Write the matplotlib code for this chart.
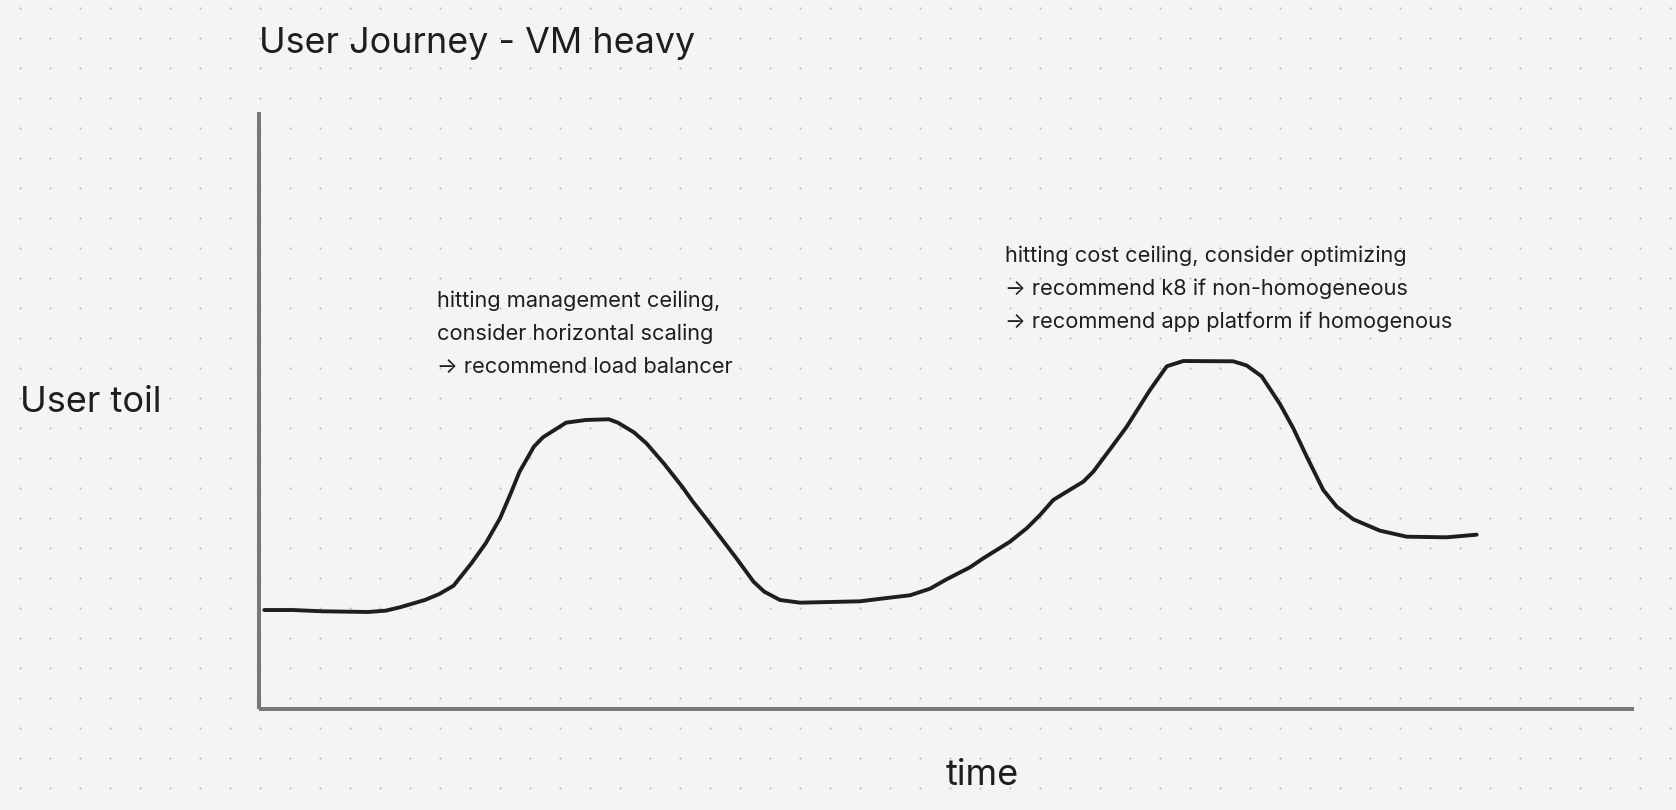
# User Journey - VM heavy (hand-drawn style sketch)
import numpy as np
import matplotlib.pyplot as plt

plt.rcParams['font.family'] = ['Inter', 'DejaVu Sans']

# curve: time (0-100) vs user toil (0-100)
time = [0.42, 2.50, 4.57, 7.95, 9.25, 10.29, 12.10, 13.14, 14.18, 15.48, 16.52,
        17.56, 18.34, 18.98, 20.02, 20.68, 22.36, 23.79, 25.47, 26.13, 27.29,
        28.20, 29.50, 30.80, 31.58, 32.62, 34.69, 35.99, 36.77, 37.91,
        39.37, 43.73, 45.67, 47.37, 48.82, 50.03, 51.73, 52.69, 54.63, 55.85,
        56.82, 57.78, 58.76, 59.96, 60.69, 62.14, 63.12, 64.81, 66.03, 67.23,
        70.87, 71.84, 72.93, 74.26, 75.23, 76.21, 77.41, 78.39, 79.59, 81.53,
        83.48, 86.38, 88.56]
toil = [16.58, 16.58, 16.37, 16.25, 16.47, 17.04, 18.26, 19.26, 20.65, 24.41, 27.76,
        31.94, 36.13, 39.75, 43.94, 45.51, 47.96, 48.41, 48.53, 47.96, 46.35,
        44.51, 41.04, 37.24, 34.72, 31.66, 25.41, 21.32, 19.65, 18.26,
        17.81, 18.04, 18.59, 19.05, 20.15, 21.73, 23.74, 25.24, 28.02, 30.27,
        32.50, 35.01, 36.40, 38.07, 39.75, 44.22, 47.29, 53.43, 57.40, 58.29,
        58.24, 57.54, 55.73, 51.09, 47.02, 42.26, 36.68, 33.89, 31.78, 29.87,
        28.86, 28.76, 29.20]

title = 'User Journey - VM heavy'
xlabel = 'time'
ylabel = 'User toil'
note1 = ['hitting management ceiling,',
         'consider horizontal scaling',
         '\u2192 recommend load balancer']
note2 = ['hitting cost ceiling, consider optimizing',
         '\u2192 recommend k8 if non-homogeneous',
         '\u2192 recommend app platform if homogenous']

W, H = 1676, 810
bg = '#f4f4f4'
ink = '#1e1e1e'

fig = plt.figure(figsize=(W / 100, H / 100), dpi=100, facecolor=bg)

# dotted canvas background
bg_ax = fig.add_axes([0, 0, 1, 1], zorder=0)
bg_ax.set_xlim(0, W)
bg_ax.set_ylim(H, 0)
bg_ax.axis('off')
gx, gy = np.meshgrid(np.arange(19.5, W, 30), np.arange(8, H, 30))
bg_ax.scatter(gx.ravel(), gy.ravel(), s=2.2, color='#b9b9b9', linewidths=0)

# chart area
x0, x1, ytop, ybot = 258.5, 1634, 112, 709
ax = fig.add_axes([x0 / W, (H - ybot) / H, (x1 - x0) / W, (ybot - ytop) / H], zorder=1)
ax.patch.set_alpha(0)
ax.set_xlim(0, 100)
ax.set_ylim(0, 100)
for s in ['top', 'right']:
    ax.spines[s].set_visible(False)
for s in ['left', 'bottom']:
    ax.spines[s].set_color('#787878')
    ax.spines[s].set_linewidth(2.9)
    ax.spines[s].set_capstyle('butt')
ax.set_xticks([])
ax.set_yticks([])

ax.plot(time, toil, color=ink, lw=2.8, solid_capstyle='round', solid_joinstyle='round')

# labels (positions in pixels from top-left, baseline)
def put(x, y, s, size):
    fig.text(x / W, 1 - y / H, s, fontsize=size, color=ink, va='baseline', ha='left')

put(259, 52.7, title, 25.8)
put(20, 411.7, ylabel, 26)
put(946, 785, xlabel, 26)
for i, line in enumerate(note1):
    put(437, 307 + 33 * i, line, 15.7)
for i, line in enumerate(note2):
    put(1005, 262 + 33 * i, line, 15.7)

fig.savefig('out.png', dpi=100, facecolor=bg)
